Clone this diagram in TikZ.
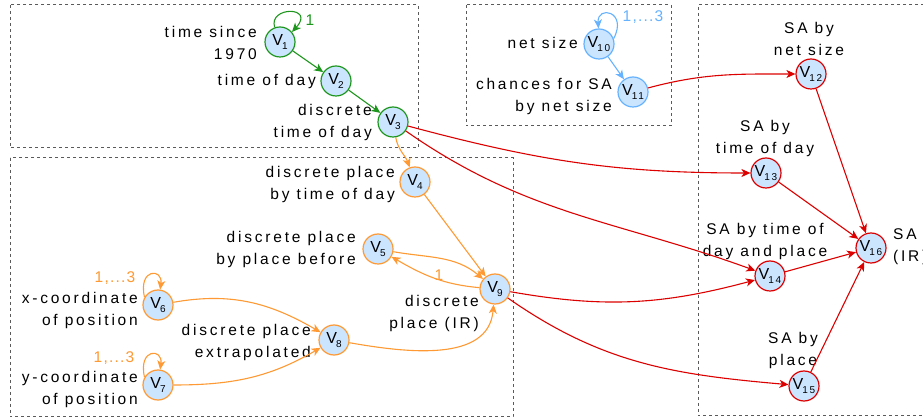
\documentclass[tikz,border=0pt]{standalone}
\usepackage{fontspec}
\setmainfont{Liberation Sans}[LetterSpace=18]
\usetikzlibrary{arrows.meta}
\definecolor{cgreen}{RGB}{30,150,30}
\definecolor{cblue}{RGB}{102,178,255}
\definecolor{corange}{RGB}{255,153,51}
\definecolor{cred}{RGB}{220,0,0}
\definecolor{nfill}{RGB}{204,229,255}
\definecolor{boxgray}{RGB}{90,90,90}
\newcommand{\vv}[1]{{\fontsize{16}{16}\selectfont V\kern-1pt\raisebox{-4.5pt}{\fontsize{10}{10}\selectfont #1}}}
\tikzset{
  vnode/.style={circle, draw=#1, fill=nfill, line width=1.2pt, minimum size=30pt, inner sep=0pt, text=black},
  lbl/.style={inner sep=0pt, font=\fontsize{15.5}{22}\selectfont, text=black},
  grp/.style={draw=boxgray, dash pattern=on 3pt off 3pt, line width=1pt},
  con/.style={draw=#1, line width=1.1pt, -{Stealth[length=9pt,width=8pt,inset=2.5pt]}},
  loopl/.style={inner sep=0pt, font=\fontsize{15.5}{15.5}\selectfont\addfontfeature{LetterSpace=8}, text=#1},
}
\begin{document}
\begin{tikzpicture}[x=1pt,y=1pt]
\useasboundingbox (0,0) rectangle (923,420);
% groups
\draw[grp] (10,415) rectangle (418,272);
\draw[grp] (10,262) rectangle (513,3);
\draw[grp] (466,415) rectangle (671,294);
\draw[grp] (930,415) -- (698,415) -- (698,4) -- (930,4);
% nodes
\node[vnode=cgreen] (V1) at (280,378) {\vv{1}};
\node[vnode=cgreen] (V2) at (336,339) {\vv{2}};
\node[vnode=cgreen] (V3) at (393,298) {\vv{3}};
\node[vnode=corange] (V4) at (415,238) {\vv{4}};
\node[vnode=corange] (V5) at (378,171) {\vv{5}};
\node[vnode=corange] (V6) at (158,115) {\vv{6}};
\node[vnode=corange] (V7) at (158,35) {\vv{7}};
\node[vnode=corange] (V8) at (334,80) {\vv{8}};
\node[vnode=corange] (V9) at (495,131) {\vv{9}};
\node[vnode=cblue] (V10) at (599,376) {\vv{10}};
\node[vnode=cblue] (V11) at (633,328) {\vv{11}};
\node[vnode=cred] (V12) at (811,346) {\vv{12}};
\node[vnode=cred] (V13) at (766,247) {\vv{13}};
\node[vnode=cred] (V14) at (770,144) {\vv{14}};
\node[vnode=cred] (V15) at (804,34) {\vv{15}};
\node[vnode=cred] (V16) at (871,172) {\vv{16}};
% labels
\node[lbl, anchor=east, align=right] (L1) at (257,377) {time since\\1970};
\node[lbl, anchor=east, align=right] (L2) at (316,339) {time of day};
\node[lbl, anchor=east, align=right] (L3) at (372,298) {discrete\\time of day};
\node[lbl, anchor=east, align=right] (L4) at (395,236) {discrete place\\by time of day};
\node[lbl, anchor=east, align=right] (L5) at (356,171) {discrete place\\by place before};
\node[lbl, anchor=east, align=right] (L6) at (138,110) {x-coordinate\\of position};
\node[lbl, anchor=east, align=right] (L7) at (138,31) {y-coordinate\\of position};
\node[lbl, anchor=east, align=right] (L8) at (311,78) {discrete place\\extrapolated};
\node[lbl, anchor=east, align=right] (L9) at (479,107) {discrete\\place (IR)};
\node[lbl, anchor=east, align=right] (L10) at (578,377) {net size};
\node[lbl, anchor=east, align=right] (L11) at (612,324) {chances for SA\\by net size};
\node[lbl, align=center] (L12) at (809,381) {SA by\\net size};
\node[lbl, align=center] (L13) at (765,282) {SA by\\time of day};
\node[lbl, align=center] (L14) at (765,179) {SA by time of\\day and place};
\node[lbl, align=center] (L15) at (793,70) {SA by\\place};
\node[lbl, anchor=west, align=left] (L16) at (893,173) {SA\\(IR)};
% loop labels
\node[loopl=cgreen] (n1) at (310,400) {1};
\node[loopl=cblue] (n10) at (643,403) {1,...3};
\node[loopl=corange] (n6) at (115,142) {1,...3};
\node[loopl=corange] (n7) at (114,62) {1,...3};
\node[loopl=corange] (n95) at (439,145) {1};
% loops
\draw[con=cgreen] (V1.110) .. controls (268,414) and (316,414) .. (V1.40);
\draw[con=cblue] (V10.20) .. controls (628,409) and (597,415) .. (V10.92);
\draw[con=corange] (V6.150) .. controls (138,152) and (163,152) .. (V6.82);
\draw[con=corange] (V7.150) .. controls (138,72) and (163,72) .. (V7.82);
% green
\draw[con=cgreen] (V1) -- (V2);
\draw[con=cgreen] (V2) -- (V3);
% orange
\draw[con=corange] (V3) to[out=-80,in=110] (V4);
\draw[con=corange] (V4) -- (V9);
\draw[con=corange] (V5) to[out=-10,in=140] (V9);
\draw[con=corange] (V9) to[out=175,in=-30] (V5);
\draw[con=corange] (V6) to[out=10,in=150] (V8);
\draw[con=corange] (V7) to[out=0,in=210] (V8);
\draw[con=corange] (V8) to[out=-10,in=-95] (V9);
% blue
\draw[con=cblue] (V10) -- (V11);
% red
\draw[con=cred] (V3) to[out=-15,in=180] (V13);
\draw[con=cred] (V3) to[out=-35,in=160] (V14);
\draw[con=cred] (V9) to[out=-10,in=195] (V14);
\draw[con=cred] (V9) to[out=-35,in=175] (V15);
\draw[con=cred] (V11) to[out=15,in=180] (V12);
\draw[con=cred] (V12) -- (V16);
\draw[con=cred] (V13) -- (V16);
\draw[con=cred] (V14) -- (V16);
\draw[con=cred] (V15) -- (V16);
\end{tikzpicture}
\end{document}
